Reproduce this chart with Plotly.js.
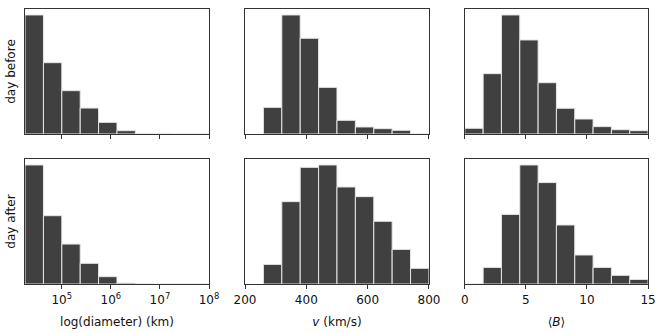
<script src="https://cdn.plot.ly/plotly-3.0.1.min.js"></script>
<style>body { margin: 0; }</style>
<div id="chart" style="width:664px;height:333px;"></div>
<script>
// bin edges (diameter in log10 km, speed in km/s, field in nT)
const diamEdges = [4.252, 4.627, 5.001, 5.376, 5.75, 6.125, 6.5, 6.874, 7.249, 7.625, 8.0];
const speedEdges = [260, 320, 380, 440, 500, 560, 620, 680, 740, 800];
const fieldEdges = [0, 1.5, 3, 4.5, 6, 7.5, 9, 10.5, 12, 13.5, 15];

// relative counts
const diamBefore = [100, 59.9, 36.4, 21.8, 9.8, 2.8, 0.3, 0.1, 0, 0];
const diamAfter = [100, 57.4, 33.6, 17.4, 6.2, 0.8, 0.1, 0, 0, 0];
const speedBefore = [22.4, 100, 80.4, 39.2, 11.5, 5.9, 4.5, 3.1, 0];
const speedAfter = [16.5, 69.2, 98.0, 100, 81.5, 73.4, 52.7, 29.1, 13.2];
const fieldBefore = [4.8, 50.7, 100, 79.0, 43.1, 21.6, 12.6, 6.2, 3.6, 2.8];
const fieldAfter = [0, 14.0, 58.5, 100, 85.2, 49.6, 24.4, 14.0, 7.3, 3.9];

function hist(edges, counts, xa, ya) {
  const mids = counts.map((_, i) => (edges[i] + edges[i + 1]) / 2);
  const widths = counts.map((_, i) => edges[i + 1] - edges[i]);
  return {
    type: 'bar', x: mids, y: counts, width: widths,
    xaxis: xa, yaxis: ya,
    marker: { color: '#404040', line: { color: '#e6e6e6', width: 1 } },
    hoverinfo: 'skip', showlegend: false
  };
}

const data = [
  hist(diamEdges, diamBefore, 'x', 'y'),
  hist(speedEdges, speedBefore, 'x2', 'y2'),
  hist(fieldEdges, fieldBefore, 'x3', 'y3'),
  hist(diamEdges, diamAfter, 'x4', 'y4'),
  hist(speedEdges, speedAfter, 'x5', 'y5'),
  hist(fieldEdges, fieldAfter, 'x6', 'y6')
];

const cols = [[0.0377, 0.3148], [0.369, 0.646], [0.700, 0.976]];
const rows = [[0.5976, 0.973], [0.147, 0.5225]];
const fs = 12;

function xax(col, row, range, extra) {
  const n = row * 3 + col + 1;
  return Object.assign({
    domain: cols[col], anchor: 'y' + (n === 1 ? '' : n),
    range: range, showgrid: false, zeroline: false, automargin: false,
    showline: true, mirror: true, linecolor: '#333', linewidth: 1.2,
    ticks: 'outside', ticklen: 4, tickwidth: 1, tickcolor: '#333',
    showticklabels: row === 1,
    tickfont: { size: fs, color: '#111' }
  }, extra);
}
function yax(col, row, top, title) {
  const n = row * 3 + col + 1;
  const ax = {
    domain: rows[row], anchor: 'x' + (n === 1 ? '' : n),
    range: [0, top * 1.05], showgrid: false, zeroline: false, automargin: false,
    showline: true, mirror: true, linecolor: '#333', linewidth: 1.2,
    ticks: '', showticklabels: false
  };
  if (title) ax.title = { text: title, font: { size: fs, color: '#111' }, standoff: 5 };
  return ax;
}

const diamTicks = { tickvals: [5, 6, 7, 8], ticktext: ['10<sup>5</sup>', '10<sup>6</sup>', '10<sup>7</sup>', '10<sup>8</sup>'] };
const speedTicks = { tickvals: [200, 400, 600, 800] };
const fieldTicks = { tickvals: [0, 5, 10, 15] };

function xtitle(text) {
  return { title: { text: text, font: { size: fs, color: '#111' }, standoff: 12 } };
}

const layout = {
  width: 664, height: 333,
  margin: { l: 0, r: 0, t: 0, b: 0, autoexpand: false },
  paper_bgcolor: 'white', plot_bgcolor: 'white',
  font: { family: 'DejaVu Sans', size: fs, color: '#111' },
  bargap: 0,
  xaxis: xax(0, 0, [4.252, 8], diamTicks),
  xaxis2: xax(1, 0, [200, 800], speedTicks),
  xaxis3: xax(2, 0, [0, 15], fieldTicks),
  xaxis4: xax(0, 1, [4.252, 8], Object.assign(xtitle('log(diameter) (km)'), diamTicks)),
  xaxis5: xax(1, 1, [200, 800], Object.assign(xtitle('<i>v</i> (km/s)'), speedTicks)),
  xaxis6: xax(2, 1, [0, 15], Object.assign(xtitle('⟨<i>B</i>⟩'), fieldTicks)),
  yaxis: yax(0, 0, Math.max(...diamBefore), 'day before'),
  yaxis2: yax(1, 0, Math.max(...speedBefore)),
  yaxis3: yax(2, 0, Math.max(...fieldBefore)),
  yaxis4: yax(0, 1, Math.max(...diamAfter), 'day after'),
  yaxis5: yax(1, 1, Math.max(...speedAfter)),
  yaxis6: yax(2, 1, Math.max(...fieldAfter))
};

Plotly.newPlot('chart', data, layout, { displayModeBar: false, staticPlot: true });
</script>
